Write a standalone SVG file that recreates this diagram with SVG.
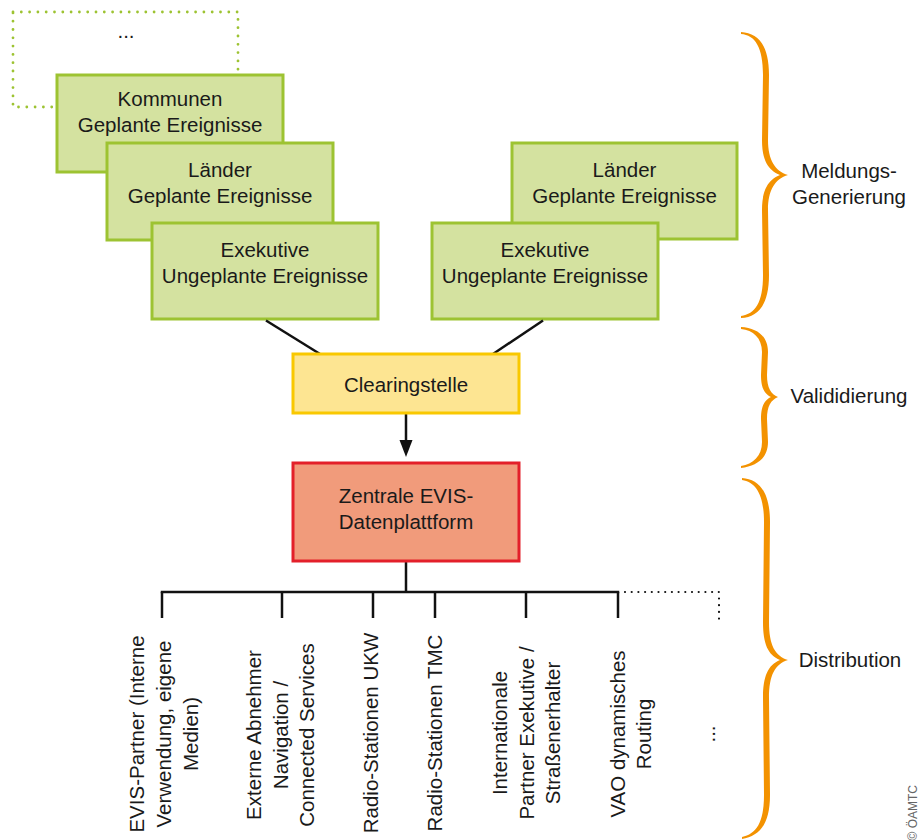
<svg xmlns="http://www.w3.org/2000/svg" width="920" height="840" viewBox="0 0 920 840">
<defs>
<style>
text{font-family:"Liberation Sans",Arial,sans-serif;font-size:20.5px;fill:#1a1a1a}
.c{text-anchor:middle}
.g{fill:#d4e2a0;stroke:#9dc332;stroke-width:3}
.y{fill:#fde592;stroke:#f9c800;stroke-width:3}
.r{fill:#f19b7b;stroke:#e3202a;stroke-width:3}
.ln{stroke:#111;stroke-width:2.5;fill:none}
.brace{fill:#f39200}
</style>
</defs>

<g id="dotted-more">
<rect x="13" y="12" width="225" height="95" fill="none" stroke="#9dc332" stroke-width="2.8" stroke-dasharray="0 8.3" stroke-linecap="round"/>
<text class="c" x="126" y="38">...</text>
</g>

<g id="kommunen">
<rect class="g" x="57" y="75" width="226" height="97"/>
<text class="c" x="170" y="106">Kommunen</text>
<text class="c" x="170" y="132">Geplante Ereignisse</text>
</g>
<g id="laender-left">
<rect class="g" x="107" y="143" width="226" height="97"/>
<text class="c" x="220" y="177">Länder</text>
<text class="c" x="220" y="203">Geplante Ereignisse</text>
</g>
<g id="exekutive-left">
<rect class="g" x="152" y="223" width="226" height="96"/>
<text class="c" x="265" y="257">Exekutive</text>
<text class="c" x="265" y="283">Ungeplante Ereignisse</text>
</g>
<g id="laender-right">
<rect class="g" x="512" y="143" width="225" height="96"/>
<text class="c" x="624.5" y="177">Länder</text>
<text class="c" x="624.5" y="203">Geplante Ereignisse</text>
</g>
<g id="exekutive-right">
<rect class="g" x="432" y="223" width="226" height="96"/>
<text class="c" x="545" y="257">Exekutive</text>
<text class="c" x="545" y="283">Ungeplante Ereignisse</text>
</g>

<g id="connectors">
<line class="ln" x1="266" y1="320.5" x2="320" y2="354"/>
<line class="ln" x1="543" y1="320.5" x2="493" y2="354"/>
<line class="ln" x1="406" y1="414" x2="406" y2="441"/>
<polygon points="399.5,440 412.5,440 406,457" fill="#111"/>
<line class="ln" x1="406" y1="562" x2="406" y2="592"/>
<line class="ln" x1="160.75" y1="592" x2="619.25" y2="592"/>
<line class="ln" x1="162" y1="592" x2="162" y2="618"/>
<line class="ln" x1="282" y1="592" x2="282" y2="618"/>
<line class="ln" x1="373" y1="592" x2="373" y2="618"/>
<line class="ln" x1="435" y1="592" x2="435" y2="618"/>
<line class="ln" x1="526" y1="592" x2="526" y2="618"/>
<line class="ln" x1="618" y1="592" x2="618" y2="618"/>
<path d="M625,592 H719 V619" fill="none" stroke="#111" stroke-width="2.2" stroke-dasharray="0 6.7" stroke-linecap="round"/>
</g>

<g id="clearingstelle">
<rect class="y" x="293" y="354" width="226" height="59"/>
<text class="c" x="406" y="392">Clearingstelle</text>
</g>

<g id="zentrale">
<rect class="r" x="293" y="463" width="226" height="98"/>
<text class="c" x="406" y="503">Zentrale EVIS-</text>
<text class="c" x="406" y="529">Datenplattform</text>
</g>

<g id="targets">
<text class="c" transform="translate(144,734) rotate(-90)"><tspan x="0" y="0">EVIS-Partner (Interne</tspan><tspan x="0" y="27">Verwendung, eigene</tspan><tspan x="0" y="54">Medien)</tspan></text>
<text class="c" transform="translate(261,735) rotate(-90)"><tspan x="0" y="0">Externe Abnehmer</tspan><tspan x="0" y="27">Navigation /</tspan><tspan x="0" y="53">Connected Services</tspan></text>
<text class="c" transform="translate(378,733) rotate(-90)">Radio-Stationen UKW</text>
<text class="c" transform="translate(442,733) rotate(-90)">Radio-Stationen TMC</text>
<text class="c" transform="translate(507,733) rotate(-90)"><tspan x="0" y="0">Internationale</tspan><tspan x="0" y="26.5">Partner Exekutive /</tspan><tspan x="0" y="53">Straßenerhalter</tspan></text>
<text class="c" transform="translate(625,734) rotate(-90)"><tspan x="0" y="0">VAO dynamisches</tspan><tspan x="0" y="26">Routing</tspan></text>
<text class="c" transform="translate(715,734) rotate(-90)">...</text>
</g>

<g id="brace-meldung">
<path class="brace" d="M741,32 C758,33 769,45 769,75 L768,140 C768,160 775,171 788,175 C775,179 768,190 768,210 L769,275 C769,305 758,317 741,318 L741,316 C755,314 763,303 763,275 L762,210 C762,190 768,180 780,175 C768,170 762,160 762,140 L763,75 C763,47 755,35 741,34 Z"/>
<text class="c" x="849" y="178">Meldungs-</text>
<text class="c" x="849" y="204">Generierung</text>
</g>
<g id="brace-valid">
<path class="brace" d="M741,327 C757,328 768,336 768,352 L767,375 C767,388 771,394 778,397 C771,400 767,406 767,419 L768,442 C768,458 757,466 741,468 L741,466 C753,464 762,456 762,442 L761,419 C761,405 765,400 771,397 C765,394 761,389 761,375 L762,352 C762,338 753,330 741,329 Z"/>
<text class="c" x="849" y="403">Valididierung</text>
</g>
<g id="brace-distribution">
<path class="brace" d="M742,478 C759,479 770,492 770,522 L769,622 C769,645 775,656 788,660 C775,664 769,675 769,698 L770,795 C770,825 759,836 742,839 L742,837 C756,834 764,823 764,795 L763,698 C763,676 768,665 780,660 C768,655 763,644 763,622 L764,522 C764,495 756,482 742,480 Z"/>
<text class="c" x="850" y="667">Distribution</text>
</g>

<g id="copyright">
<text transform="translate(917,785) rotate(-90)" style="font-size:12px;fill:#666;text-anchor:end">© ÖAMTC</text>
</g>
</svg>
